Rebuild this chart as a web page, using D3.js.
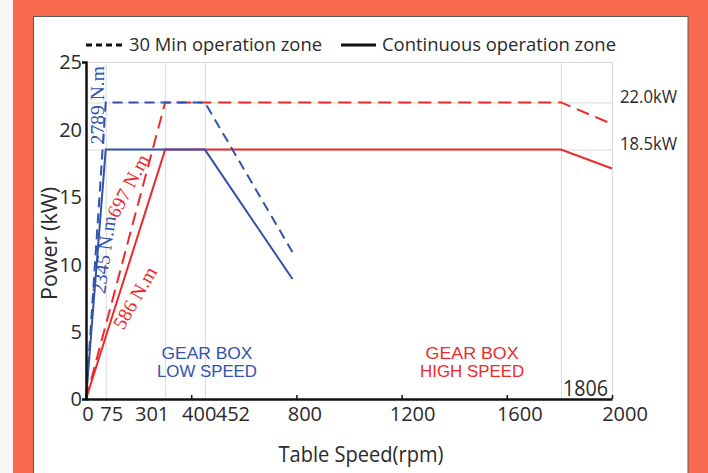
<!DOCTYPE html>
<html><head><meta charset="utf-8">
<script src="https://cdn.jsdelivr.net/npm/d3@7"></script>
<style>body{margin:0;background:#fff;} svg{display:block;}</style>
</head><body><svg id="c" width="708" height="473"></svg>
<script>
// ---- data ----
const xTickValues = [0, 400, 800, 1200, 1600, 2000];
const xLabelValues = [0, 75, 301, 400, 452, 800, 1200, 1600, 2000];
const xLabelTexts = ["0", "75", "301", "400", "452", "800", "1200", "1600", "2000"];
const yTickValues = [0, 5, 10, 15, 20, 25];
const gridRpm = [75, 301, 452, 1806, 2000];
const gridKw = [18.5, 22, 25];
const lowRpm = [0, 75, 452, 785];
const low30Min = [0, 22, 22, 10.9];
const lowCont = [0, 18.5, 18.5, 8.9];
const highRpm = [0, 301, 1806, 2000];
const high30Min = [0, 22, 22, 20.4];
const highCont = [0, 18.5, 18.5, 17.1];
const torqueTexts = ["2789 N.m", "2345 N.m", "697 N.m", "586 N.m"];
const powerTexts = ["22.0kW", "18.5kW"];
const powerValues = [22, 18.5];
const legendTexts = ["30 Min operation zone", "Continuous operation zone"];

// ---- layout / style ----
const W = 708, H = 473;
const BLUE = "#3053ad", RED = "#ec2a2c", ORANGE = "#f8694d";
const FONT = "'Open Sans', 'DejaVu Sans', sans-serif";
const TIGHT = "'Liberation Sans', Arial, sans-serif";
const SERIF = "'Liberation Serif', 'DejaVu Serif', serif";
const TXT = "#2a2a2a";
const svg = d3.select("#c");

svg.append("rect").attr("width", W).attr("height", H).attr("fill", ORANGE);
svg.append("rect").attr("width", 13).attr("height", H).attr("fill", "#f6f6f6");
svg.append("rect").attr("x", 33.5).attr("y", 16.5).attr("width", 654.5).attr("height", H)
  .attr("fill", "#fff").attr("stroke", "#5a5a5a").attr("stroke-width", 1);

const x = d3.scaleLinear().domain([0, 2000]).range([86, 612]);
const y = d3.scaleLinear().domain([0, 25]).range([399, 62]);

// grid
const grid = svg.append("g").attr("stroke", "#dadada").attr("stroke-width", 1);
grid.selectAll("line.v").data(gridRpm).join("line")
  .attr("x1", d => x(d) + 0.5).attr("x2", d => x(d) + 0.5)
  .attr("y1", y(25)).attr("y2", y(0));
grid.selectAll("line.h").data(gridKw).join("line")
  .attr("x1", x(0)).attr("x2", x(2000))
  .attr("y1", d => y(d) + 0.5).attr("y2", d => y(d) + 0.5);

// series
const line = d3.line().x(d => x(d[0])).y(d => y(d[1]));
const zip = (a, b) => a.map((v, i) => [v, b[i]]);
const series = [
  { pts: zip(highRpm, high30Min), color: RED, dash: "13,7" },
  { pts: zip(highRpm, highCont), color: RED, dash: null },
  { pts: zip(lowRpm, low30Min), color: BLUE, dash: "10,6" },
  { pts: zip(lowRpm, lowCont), color: BLUE, dash: null },
];
svg.append("g").selectAll("path").data(series).join("path")
  .attr("d", d => line(d.pts)).attr("fill", "none")
  .attr("stroke", d => d.color).attr("stroke-width", 2)
  .attr("stroke-dasharray", d => d.dash);

// axes
const xAxis = svg.append("g").attr("transform", `translate(0,${y(0)})`)
  .call(d3.axisBottom(x).tickValues(xTickValues).tickSizeInner(-4).tickSizeOuter(0).tickFormat(""));
xAxis.select(".domain").attr("stroke", "#111").attr("stroke-width", 2.5);
xAxis.selectAll(".tick line").attr("stroke", "#111").attr("stroke-width", 1.5);

const yAxis = svg.append("g").attr("transform", `translate(${x(0)},0)`)
  .call(d3.axisLeft(y).tickValues(yTickValues).tickSizeInner(0).tickSizeOuter(4).tickPadding(4));
yAxis.select(".domain").attr("stroke", "#111").attr("stroke-width", 2.5);
yAxis.selectAll(".tick text").attr("font-family", FONT).attr("font-size", 20)
  .attr("fill", TXT).attr("dy", "0.34em");

// x labels (custom placement like reference)
const xLabelNudge = [2, 6, -13, 8, 28, 8.5, 11, 13, 13];
svg.append("g").selectAll("text").data(xLabelValues).join("text")
  .attr("x", (d, i) => x(d) + xLabelNudge[i]).attr("y", 421)
  .attr("text-anchor", "middle").attr("font-family", FONT).attr("font-size", 20)
  .attr("fill", TXT).text((d, i) => xLabelTexts[i]);

// axis titles
svg.append("text").attr("transform", `translate(57,${243.5}) rotate(-90)`)
  .attr("text-anchor", "middle").attr("font-family", FONT).attr("font-size", 21)
  .attr("fill", TXT).attr("textLength", 113).attr("lengthAdjust", "spacingAndGlyphs")
  .text("Power (kW)");
svg.append("text").attr("x", 361).attr("y", 462)
  .attr("text-anchor", "middle").attr("font-family", FONT).attr("font-size", 21)
  .attr("fill", TXT).attr("textLength", 165).attr("lengthAdjust", "spacingAndGlyphs")
  .text("Table Speed(rpm)");

// legend
const lg = svg.append("g");
lg.append("line").attr("x1", 86).attr("x2", 122).attr("y1", 45).attr("y2", 45)
  .attr("stroke", "#111").attr("stroke-width", 3).attr("stroke-dasharray", "6,4");
lg.append("line").attr("x1", 341).attr("x2", 376).attr("y1", 45).attr("y2", 45)
  .attr("stroke", "#111").attr("stroke-width", 3);
lg.append("text").attr("x", 129).attr("y", 51).attr("font-family", FONT).attr("font-size", 19)
  .attr("fill", TXT).attr("textLength", 193).attr("lengthAdjust", "spacingAndGlyphs").text(legendTexts[0]);
lg.append("text").attr("x", 382).attr("y", 51).attr("font-family", FONT).attr("font-size", 19)
  .attr("fill", TXT).attr("textLength", 234).attr("lengthAdjust", "spacingAndGlyphs").text(legendTexts[1]);

// torque labels
const torquePos = [[42, 21.8, -90], [68, 10.7, -82], [160, 15.8, -62], [186, 7.5, -60]];
const torqueColor = [BLUE, BLUE, RED, RED];
svg.append("g").selectAll("text").data(torqueTexts).join("text")
  .attr("transform", (d, i) => `translate(${x(torquePos[i][0])},${y(torquePos[i][1])}) rotate(${torquePos[i][2]})`)
  .attr("text-anchor", "middle").attr("dominant-baseline", "central")
  .attr("font-family", SERIF).attr("font-size", 19.5).attr("fill", (d, i) => torqueColor[i])
  .text(d => d);

// power labels
svg.append("g").selectAll("text").data(powerTexts).join("text")
  .attr("x", x(2000) + 8).attr("y", (d, i) => y(powerValues[i]) + 0.5)
  .attr("font-family", FONT).attr("font-size", 19).attr("fill", TXT)
  .attr("textLength", 57).attr("lengthAdjust", "spacingAndGlyphs").text(d => d);

// region labels (separate lines)
const regionLines = [
  { s: "GEAR BOX", rpm: 460, row: 0, c: BLUE, w: 91 },
  { s: "LOW SPEED", rpm: 460, row: 1, c: BLUE, w: 100 },
  { s: "GEAR BOX", rpm: 1468, row: 0, c: RED, w: 93 },
  { s: "HIGH SPEED", rpm: 1468, row: 1, c: RED, w: 104 },
];
svg.append("g").selectAll("text").data(regionLines).join("text")
  .attr("x", d => x(d.rpm)).attr("y", d => y(2.95) + d.row * 18)
  .attr("text-anchor", "middle").attr("font-family", TIGHT).attr("font-size", 16)
  .attr("fill", d => d.c).attr("textLength", d => d.w).attr("lengthAdjust", "spacingAndGlyphs")
  .text(d => d.s);

// 1806 label
svg.append("text").attr("x", x(1806) + 2).attr("y", y(0) - 3)
  .attr("font-family", FONT).attr("font-size", 21).attr("fill", TXT)
  .attr("textLength", 45).attr("lengthAdjust", "spacingAndGlyphs").text("1806");
</script></body></html>
